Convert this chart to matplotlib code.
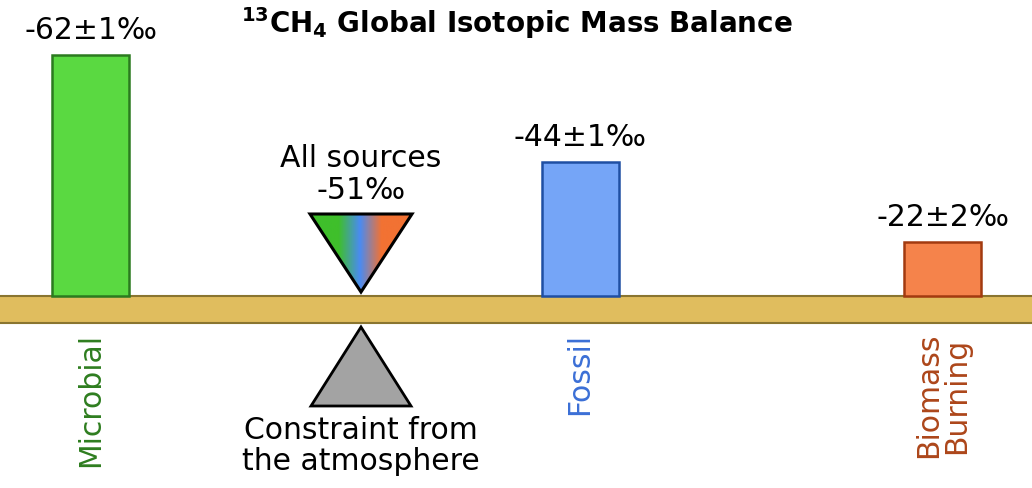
import matplotlib
matplotlib.use("Agg")
import matplotlib.pyplot as plt
import numpy as np
from matplotlib.patches import Polygon, Rectangle
from matplotlib.colors import LinearSegmentedColormap

# ---- data ----
categories = ["Microbial", "Fossil", "Biomass\nBurning"]
value_labels = ["-62±1‰", "-44±1‰", "-22±2‰"]
relative_flux = [241, 134, 54]          # bar heights (relative source strength)
mixed_label = "All sources\n-51‰"
fulcrum_label = "Constraint from\nthe atmosphere"
title = r"$^{\mathbf{13}}$CH$_{\mathbf{4}}$ Global Isotopic Mass Balance"

# ---- styles ----
fill_colors = ["#5ad941", "#75a5f7", "#f5834b"]
edge_colors = ["#2b7a1f", "#1f4fa3", "#a23a10"]
label_colors = ["#2e7d1f", "#3b6fd6", "#ad461a"]
x_pos = [90.5, 580, 942.5]
bar_w = 77
mix_x = 361
FS = 21.5

W, H = 1032, 489
plank_top = 297
fig = plt.figure(figsize=(W / 100, H / 100), dpi=100)
ax = fig.add_axes([0, 0, 1, 1])
ax.set_xlim(0, W)
ax.set_ylim(-(H - plank_top), plank_top)
ax.axis("off")

# plank
ax.add_patch(Rectangle((-2, -27), W + 4, 27, facecolor="#e0bd5e",
                       edgecolor="#8a7530", linewidth=1.5, zorder=2))

# bars
ax.bar(x_pos, relative_flux, width=bar_w, bottom=0, color=fill_colors,
       edgecolor=edge_colors, linewidth=1.8, zorder=3)

for x, h, lab, cat, col in zip(x_pos, relative_flux, value_labels, categories, label_colors):
    ax.text(x, h + 11, lab, ha="center", va="bottom", fontsize=FS, zorder=4)
    ax.text(x, -36, cat, ha="center", va="top", rotation=90, color=col,
            fontsize=FS, linespacing=0.95, zorder=4)

# mixed-source inverted triangle with gradient
tri_top, tri_half = 82, 51
verts = [[mix_x - tri_half, tri_top], [mix_x + tri_half, tri_top], [mix_x, 4]]
cmap = LinearSegmentedColormap.from_list(
    "mix", [(0.0, "#3fbf2b"), (0.28, "#3fbf2b"), (0.49, "#4a8bf2"),
            (0.7, "#f27233"), (1.0, "#f27233")])
grad = np.linspace(0, 1, 256).reshape(1, -1)
im = ax.imshow(grad, cmap=cmap, aspect="auto",
               extent=[mix_x - tri_half, mix_x + tri_half, 4, tri_top], zorder=5)
clip = Polygon(verts, closed=True, transform=ax.transData)
im.set_clip_path(clip)
ax.add_patch(Polygon(verts, closed=True, facecolor="none", edgecolor="black",
                     linewidth=2.2, joinstyle="miter", zorder=6))
ax.text(mix_x, tri_top + 10, mixed_label, ha="center", va="bottom", fontsize=FS,
        linespacing=1.12, zorder=4)

# fulcrum
ax.add_patch(Polygon([[mix_x - 50, -110], [mix_x + 50, -110], [mix_x, -31]],
                     closed=True, facecolor="#a3a3a3", edgecolor="black",
                     linewidth=2, joinstyle="miter", zorder=4))
ax.text(mix_x, -119, fulcrum_label, ha="center", va="top", fontsize=FS,
        linespacing=1.08, zorder=4)

# title
ax.text(517, 274, title, ha="center", va="center", fontsize=20, fontweight="bold")

fig.savefig("out.png", dpi=100)
